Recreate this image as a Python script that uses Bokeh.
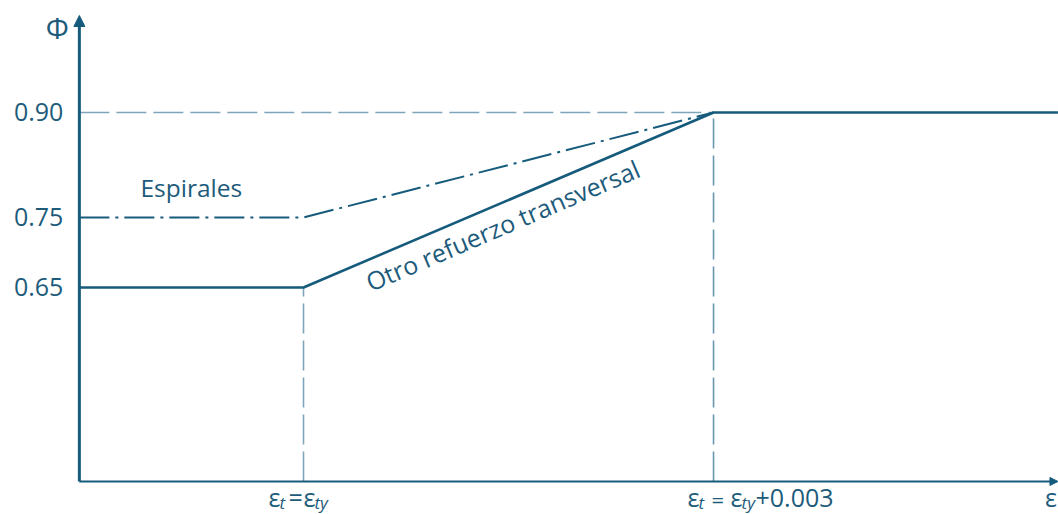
from bokeh.plotting import figure
from bokeh.models import Range1d, Label, Arrow, NormalHead
from bokeh.embed import file_html
from bokeh.resources import INLINE

# ---- data ----
eps_ty = 0.002                  # yield strain (schematic)
eps_lim = eps_ty + 0.003        # tension-controlled limit
phi_ticks = [0.65, 0.75, 0.90]
phi_tick_labels = ["0.65", "0.75", "0.90"]
other_phi = [0.65, 0.65, 0.90, 0.90]
spiral_phi = [0.75, 0.75, 0.90]

# axis origin / extent (schematic axes drawn inside the frame)
X_AXIS0, X_AXIS_END = 0.00036, 0.00752
Y_AXIS0, Y_AXIS_TOP = 0.3729, 1.0386
X_RANGE = (-0.000217, 0.007524)
Y_RANGE = (0.3257, 1.06)

other_x = [X_AXIS0, eps_ty, eps_lim, X_AXIS_END]
spiral_x = [X_AXIS0, eps_ty, eps_lim]

DARK = "#165b7c"
REF = "#7fa5bb"
REF2 = "#6a96b0"
TXT = "#1d5b7b"
FONT = "Open Sans"

p = figure(width=1058, height=514, x_range=Range1d(*X_RANGE),
           y_range=Range1d(*Y_RANGE), output_backend="svg",
           toolbar_location=None, x_axis_location=None, y_axis_location=None,
           min_border_left=0, min_border_right=0, min_border_top=0,
           min_border_bottom=0)
p.xgrid.visible = False
p.ygrid.visible = False
p.outline_line_color = None

# reference dashed lines
p.line([X_AXIS0, eps_lim], [0.90, 0.90], line_color=REF, line_width=1.6, line_dash="30 7")
p.line([eps_ty, eps_ty], [Y_AXIS0, 0.65], line_color=REF, line_width=1.6, line_dash="30 7")
p.line([eps_lim, eps_lim], [Y_AXIS0, 0.90], line_color=REF2, line_width=1.6, line_dash="30 7")

# main curves
p.line(spiral_x, spiral_phi, line_color=DARK, line_width=2, line_dash="30 6 3 6")
p.line(other_x, other_phi, line_color=DARK, line_width=2.6)

# axes with arrow heads
p.add_layout(Arrow(end=NormalHead(size=11, fill_color=DARK, line_color=DARK),
                   x_start=X_AXIS0, y_start=Y_AXIS0, x_end=X_AXIS0, y_end=Y_AXIS_TOP,
                   line_color=DARK, line_width=3))
p.add_layout(Arrow(end=NormalHead(size=8, fill_color=DARK, line_color=DARK),
                   x_start=X_AXIS0, y_start=Y_AXIS0, x_end=X_AXIS_END, y_end=Y_AXIS0,
                   line_color=DARK, line_width=2))

def lab(x, y, text, xo=0, yo=0, size="24px", style="normal", align="left",
        baseline="bottom", angle=0.0):
    p.add_layout(Label(x=x, y=y, x_offset=xo, y_offset=yo, text=text,
                       text_font=FONT, text_font_size=size, text_font_style=style,
                       text_color=TXT, text_align=align, text_baseline=baseline,
                       angle=angle))

# y tick labels
for t, s in zip(phi_ticks, phi_tick_labels):
    lab(X_AXIS0, t, s, xo=-16, size="25px", align="right", baseline="middle")

# axis titles
lab(X_AXIS0, Y_AXIS_TOP, "Φ", xo=-22, yo=-12, size="29px", align="center", baseline="middle")
lab(X_AXIS_END, Y_AXIS0, "ε", xo=-13, yo=-33, size="25px")

# curve annotations
lab(X_AXIS0, 0.75, "Espirales", xo=112, yo=30, size="24.5px", align="center", baseline="middle")
lab((eps_ty + eps_lim) / 2, (0.65 + 0.90) / 2, "Otro refuerzo transversal",
    xo=-6, yo=-25, size="25px", align="center", baseline="middle", angle=0.4034)

# x tick labels (composite with italic subscripts)
BIG, SUB = "25px", "17px"
YE = -33     # epsilon / symbol pieces
YN = -26     # numeric piece
lab(eps_ty, Y_AXIS0, "ε", xo=-35, yo=YE, size=BIG)
lab(eps_ty, Y_AXIS0, "t", xo=-24, yo=YE, size=SUB, style="italic")
lab(eps_ty, Y_AXIS0, "=", xo=-15, yo=YE, size=BIG)
lab(eps_ty, Y_AXIS0, "ε", xo=0, yo=YE, size=BIG)
lab(eps_ty, Y_AXIS0, "ty", xo=11, yo=YE, size=SUB, style="italic")

lab(eps_lim, Y_AXIS0, "ε", xo=-26, yo=YE, size=BIG)
lab(eps_lim, Y_AXIS0, "t", xo=-15, yo=YE, size=SUB, style="italic")
lab(eps_lim, Y_AXIS0, "=", xo=-2, yo=YE, size="22px")
lab(eps_lim, Y_AXIS0, "ε", xo=17, yo=YE, size=BIG)
lab(eps_lim, Y_AXIS0, "ty", xo=28, yo=YE, size=SUB, style="italic")
lab(eps_lim, Y_AXIS0, "+0.003", xo=42, yo=YN, size=BIG)

open("out.html", "w").write(file_html(p, INLINE))
